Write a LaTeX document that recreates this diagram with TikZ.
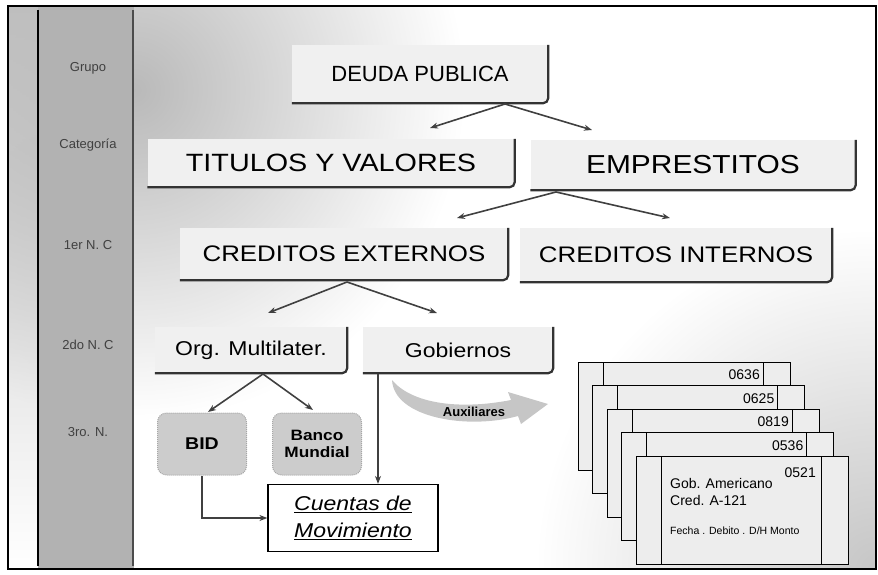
\documentclass[tikz,border=0pt]{standalone}
\usepackage{fontspec}
\setmainfont{Liberation Sans}
\newfontfamily\widefont[FakeStretch=1.15]{Liberation Sans}
\usetikzlibrary{arrows.meta,fadings}

\tikzfading[name=cornerfade, inner color=transparent!0, outer color=transparent!100]

\tikzset{
  lvlbox/.style={fill=gray!12, inner sep=0pt, text=black},
  shadowline/.style={draw=black!80, line width=2.2pt, rounded corners=5pt},
  arr/.style={draw=black!75, line width=1.6pt, -{Stealth[length=8pt,width=6pt]}},
  bank/.style={fill=gray!40, draw=gray!70, densely dotted, line width=1pt, rounded corners=9pt,
    font=\bfseries, align=center, inner sep=0pt, minimum width=89, minimum height=62},
  card/.style={fill=gray!14, draw=black, line width=1pt},
  cardno/.style={font=\fontsize{14}{14}\selectfont, inner sep=0pt},
  rowlabel/.style={text=black!75, font=\fontsize{13}{13}\selectfont},
}

\begin{document}
\begin{tikzpicture}[x=1pt,y=-1pt]
\useasboundingbox (0,0) rectangle (878,575);

% background
\begin{scope}
\clip (8,6) rectangle (876,569);
\fill[gray!45, path fading=cornerfade] (876,569) circle (340);
\fill[gray!55, path fading=cornerfade] (134,90) ellipse (330 and 330);
\fill[gray!50, path fading=south] (8,6) rectangle (38,569);
\fill[gray!60] (38,6) rectangle (134,569);
\end{scope}
\draw[line width=2pt] (38,10) -- (38,566);
\draw[black!70, line width=1.5pt] (133,10) -- (133,566);

\foreach \y/\t [count=\k] in {68/Grupo,145/Categoría,245/1er N. C,345/2do N. C,432/3ro. N.}
  \node[rowlabel] (row\k) at (88,\y) {\t};

% levels
\node[lvlbox, minimum width=256, minimum height=58, font=\fontsize{22}{22}\selectfont] (deuda) at (420,74) {DEUDA PUBLICA};
\node[lvlbox, minimum width=367, minimum height=48, font=\widefont\fontsize{25}{25}\selectfont] (titulos) at (331,163) {TITULOS Y VALORES};
\node[lvlbox, minimum width=325, minimum height=50, font=\widefont\fontsize{26}{26}\selectfont] (emp) at (693,165) {EMPRESTITOS};
\node[lvlbox, minimum width=328, minimum height=52, font=\widefont\fontsize{22.5}{22.5}\selectfont] (cext) at (344,254) {CREDITOS EXTERNOS};
\node[lvlbox, minimum width=312, minimum height=54, font=\widefont\fontsize{22.5}{22.5}\selectfont] (cint) at (676,255) {CREDITOS INTERNOS};
\node[lvlbox, minimum width=192, minimum height=46, font=\widefont\fontsize{20}{20}\selectfont] (org) at (251,350) {Org. Multilater.};
\node[lvlbox, minimum width=190, minimum height=46, font=\widefont\fontsize{20}{20}\selectfont] (gob) at (458,350) {Gobiernos};

\foreach \b in {deuda,titulos,emp,cext,cint,org,gob}
  \draw[shadowline] (\b.north east) -- (\b.south east) -- (\b.south west);

\node[bank, font=\widefont\bfseries\fontsize{17}{17}\selectfont] (bid) at (202,444) {BID};
\node[bank, font=\widefont\bfseries\fontsize{15}{17}\selectfont] (banco) at (317,444) {Banco\\Mundial};
\node[draw, fill=white, line width=1.2pt, minimum width=170, minimum height=67, align=center,
  font=\widefont\itshape\fontsize{20}{27}\selectfont] (cuentas) at (353,518) {\underline{Cuentas de}\\\underline{Movimiento}};

% connectors
\coordinate (d0) at (505,104); \coordinate (d1) at (430,128); \coordinate (d2) at (592,130);
\coordinate (e0) at (556,192); \coordinate (e1) at (457,218); \coordinate (e2) at (670,218);
\coordinate (c0) at (347,282); \coordinate (c1) at (268,313); \coordinate (c2) at (437,313);
\coordinate (o0) at (263,374); \coordinate (o1) at (208,412); \coordinate (o2) at (313,410);
\coordinate (g0) at (378,374);
\draw[arr] (d0) -- (d1);
\draw[arr] (d0) -- (d2);
\draw[arr] (e0) -- (e1);
\draw[arr] (e0) -- (e2);
\draw[arr] (c0) -- (c1);
\draw[arr] (c0) -- (c2);
\draw[arr] (o0) -- (o1);
\draw[arr] (o0) -- (o2);
\draw[arr] (g0) -- (g0 |- cuentas.north);
\draw[arr] (bid.south) |- (cuentas.west);

% auxiliares
\fill[gray!45] (392,380) .. controls (394,418) and (468,430) .. (518,416) -- (521,424) -- (548,404)
  -- (508,392) -- (511,400) .. controls (460,410) and (412,404) .. (392,380) -- cycle;
\node[font=\bfseries\fontsize{13}{13}\selectfont] (aux) at (474,412) {Auxiliares};

% cards
\foreach \i/\num in {0/0636,1/0625,2/0819,3/0536}{
  \begin{scope}[shift={(578+14.5*\i,362+23.5*\i)}]
    \draw[card] (0,0) rectangle (212,108);
    \draw[line width=0.8pt] (25,0) -- (25,108) (185,0) -- (185,108);
    \node[cardno, anchor=east] (no\num) at (182,13) {\num};
  \end{scope}
}
\begin{scope}[shift={(636,456)}]
  \draw[card] (0,0) rectangle (212,108);
  \draw[line width=0.8pt] (25,0) -- (25,108) (185,0) -- (185,108);
  \node[cardno, anchor=east] (no0521) at (180,17) {0521};
  \node[anchor=west, inner sep=0pt, font=\fontsize{14}{14}\selectfont] (gobam) at (34,27) {Gob. Americano};
  \node[anchor=west, inner sep=0pt, font=\fontsize{14}{14}\selectfont] (cred) at (34,44) {Cred. A-121};
  \node[anchor=west, inner sep=0pt, font=\fontsize{10.5}{10.5}\selectfont] (campos) at (34,75) {Fecha . Debito . D/H Monto};
\end{scope}

\draw[line width=1.2pt] (8,6) rectangle (876,569);
\end{tikzpicture}
\end{document}
